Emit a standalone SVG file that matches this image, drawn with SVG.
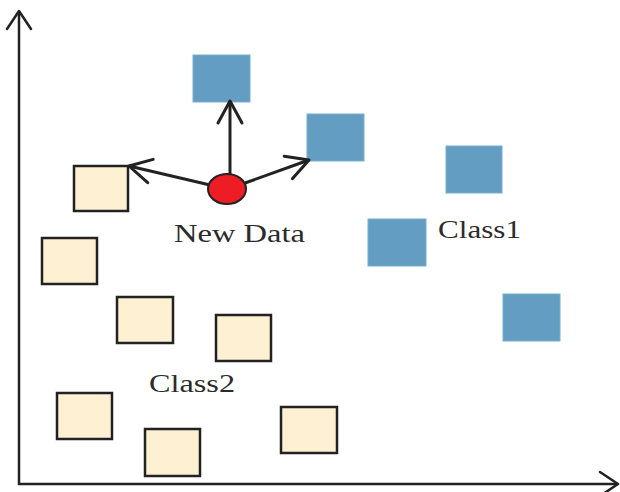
<svg xmlns="http://www.w3.org/2000/svg" width="620" height="492" viewBox="0 0 620 492">
<style>
.c1{fill:#639ec2;stroke:#7aaed0;stroke-width:1}
.c2{fill:#fef0d2;stroke:#222;stroke-width:2.5}
.ln{fill:none;stroke:#222;stroke-width:3}
.ax{fill:none;stroke:#222;stroke-width:2.5}
.t{font-family:"Liberation Serif","Times New Roman",serif;font-size:26px;fill:#2b2b2b}
</style>
<defs>
<marker id="ah" markerUnits="userSpaceOnUse" viewBox="-26 -15 30 30" markerWidth="30" markerHeight="30" refX="0" refY="0" orient="auto" overflow="visible">
<path d="M-22,-12 L0,0 L-22,12" fill="none" stroke="#222" stroke-width="3" stroke-linejoin="round" stroke-linecap="round"/>
</marker>
<marker id="axh" markerUnits="userSpaceOnUse" viewBox="-22 -15 26 30" markerWidth="26" markerHeight="30" refX="0" refY="0" orient="auto" overflow="visible">
<path d="M-18,-12 L0,0 L-18,12" fill="none" stroke="#222" stroke-width="2.5" stroke-linejoin="round" stroke-linecap="round"/>
</marker>
</defs>
<g id="axes">
<line class="ax" x1="19" y1="485" x2="19" y2="11" marker-end="url(#axh)"/>
<line class="ax" x1="18" y1="484" x2="618" y2="484" marker-end="url(#axh)"/>
</g>
<g id="class1">
<rect id="b1" class="c1" x="193" y="55" width="57" height="47"/>
<rect id="b2" class="c1" x="307" y="114" width="57" height="47"/>
<rect id="b3" class="c1" x="446" y="146" width="56" height="47"/>
<rect id="b4" class="c1" x="368" y="219" width="58" height="47"/>
<rect id="b5" class="c1" x="503" y="294" width="57" height="47"/>
</g>
<g id="class2">
<rect id="y1" class="c2" x="74" y="166" width="54" height="45"/>
<rect id="y2" class="c2" x="42" y="238" width="55" height="46"/>
<rect id="y3" class="c2" x="117" y="297" width="56" height="46"/>
<rect id="y4" class="c2" x="216" y="315" width="55" height="46"/>
<rect id="y5" class="c2" x="57" y="393" width="55" height="46"/>
<rect id="y6" class="c2" x="145" y="429" width="55" height="47"/>
<rect id="y7" class="c2" x="281" y="407" width="56" height="46"/>
</g>
<g id="connectors">
<line class="ln" x1="230" y1="176" x2="230" y2="101" marker-end="url(#ah)"/>
<line class="ln" x1="210" y1="185" x2="129" y2="166" marker-end="url(#ah)"/>
<line class="ln" x1="245" y1="183" x2="309" y2="160" marker-end="url(#ah)"/>
</g>
<g id="newdata">
<ellipse cx="227" cy="189" rx="19" ry="15" fill="#ee1c24" stroke="#222" stroke-width="2"/>
</g>
<g id="labels">
<text class="t" x="174" y="242" textLength="131" lengthAdjust="spacingAndGlyphs">New Data</text>
<text class="t" x="438" y="238" textLength="83" lengthAdjust="spacingAndGlyphs">Class1</text>
<text class="t" x="149" y="392" textLength="86" lengthAdjust="spacingAndGlyphs">Class2</text>
</g>
</svg>
